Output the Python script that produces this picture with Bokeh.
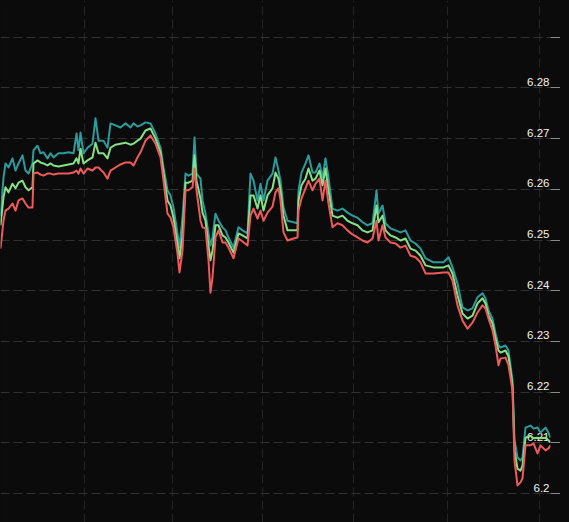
from bokeh.plotting import figure
from bokeh.models import FixedTicker, ColumnDataSource, GlobalInlineStyleSheet
from bokeh.core.properties import value
from bokeh.embed import file_html
from bokeh.resources import INLINE

# sample times (arbitrary units)
t = [0, 3, 5, 8, 12, 15, 18, 22, 25, 28,
     32, 33, 37, 40, 43, 47, 50, 53, 58, 63,
     68, 73, 76, 78, 80, 83, 87, 92, 95, 98,
     103, 107, 110, 115, 120, 125, 130, 133, 137, 140,
     145, 150, 155, 160, 163, 167, 170, 173, 177, 179,
     182, 185, 188, 192, 194, 196, 200, 202, 205, 208,
     210, 212, 215, 218, 222, 225, 228, 233, 238, 242,
     247, 250, 253, 257, 260, 263, 267, 272, 275, 278,
     280, 283, 287, 293, 297, 298, 301, 305, 308, 312,
     315, 319, 322, 325, 328, 332, 337, 342, 347, 352,
     357, 362, 367, 372, 376, 378, 382, 385, 390, 395,
     400, 405, 410, 415, 420, 425, 433, 443, 448, 452,
     457, 462, 467, 472, 477, 482, 485, 488, 492, 495,
     498, 500, 505, 508, 512, 514, 517, 520, 522, 525,
     530, 533, 537, 540, 545, 548, 550]

upper = [6.2548, 6.2623, 6.2651, 6.2643, 6.2661, 6.2637, 6.2651, 6.2667, 6.2637, 6.2631,
         6.2651, 6.2677, 6.2686, 6.2671, 6.2673, 6.2661, 6.2671, 6.2663, 6.2671, 6.2671,
         6.2673, 6.2671, 6.2710, 6.2677, 6.2712, 6.2671, 6.2682, 6.2690, 6.2740, 6.2696,
         6.2696, 6.2682, 6.2730, 6.2726, 6.2722, 6.2730, 6.2722, 6.2730, 6.2724, 6.2726,
         6.2732, 6.2730, 6.2710, 6.2682, 6.2643, 6.2598, 6.2588, 6.2564, 6.2513, 6.2485,
         6.2544, 6.2631, 6.2627, 6.2631, 6.2702, 6.2631, 6.2621, 6.2578, 6.2552, 6.2513,
         6.2489, 6.2505, 6.2552, 6.2538, 6.2525, 6.2519, 6.2505, 6.2485, 6.2525, 6.2519,
         6.2513, 6.2631, 6.2617, 6.2578, 6.2611, 6.2578, 6.2617, 6.2631, 6.2663, 6.2637,
         6.2617, 6.2564, 6.2538, 6.2535, 6.2533, 6.2598, 6.2633, 6.2651, 6.2667, 6.2633,
         6.2633, 6.2651, 6.2623, 6.2661, 6.2623, 6.2562, 6.2558, 6.2562, 6.2554, 6.2548,
         6.2544, 6.2535, 6.2529, 6.2533, 6.2598, 6.2552, 6.2568, 6.2533, 6.2523, 6.2519,
         6.2515, 6.2519, 6.2499, 6.2493, 6.2483, 6.2464, 6.2456, 6.2456, 6.2466, 6.2446,
         6.2414, 6.2367, 6.2361, 6.2365, 6.2387, 6.2395, 6.2385, 6.2361, 6.2345, 6.2316,
         6.2292, 6.2288, 6.2292, 6.2282, 6.2223, 6.2105, 6.2071, 6.2065, 6.2071, 6.2130,
         6.2134, 6.2128, 6.2130, 6.2120, 6.2130, 6.2120, 6.2110]

middle = [6.2529, 6.2584, 6.2604, 6.2594, 6.2611, 6.2602, 6.2613, 6.2617, 6.2604, 6.2598,
          6.2604, 6.2651, 6.2657, 6.2653, 6.2651, 6.2647, 6.2651, 6.2647, 6.2645, 6.2647,
          6.2649, 6.2651, 6.2661, 6.2651, 6.2680, 6.2651, 6.2657, 6.2663, 6.2692, 6.2671,
          6.2671, 6.2661, 6.2682, 6.2688, 6.2690, 6.2692, 6.2688, 6.2690, 6.2696, 6.2700,
          6.2716, 6.2720, 6.2700, 6.2673, 6.2633, 6.2578, 6.2568, 6.2544, 6.2493, 6.2464,
          6.2509, 6.2613, 6.2613, 6.2617, 6.2667, 6.2617, 6.2582, 6.2554, 6.2538, 6.2489,
          6.2460, 6.2479, 6.2529, 6.2529, 6.2509, 6.2505, 6.2495, 6.2475, 6.2513, 6.2509,
          6.2503, 6.2588, 6.2588, 6.2562, 6.2588, 6.2558, 6.2588, 6.2602, 6.2633, 6.2621,
          6.2598, 6.2548, 6.2519, 6.2519, 6.2519, 6.2578, 6.2608, 6.2621, 6.2641, 6.2617,
          6.2621, 6.2637, 6.2608, 6.2641, 6.2598, 6.2548, 6.2544, 6.2548, 6.2538, 6.2533,
          6.2529, 6.2519, 6.2515, 6.2519, 6.2568, 6.2535, 6.2548, 6.2519, 6.2509, 6.2505,
          6.2499, 6.2503, 6.2483, 6.2479, 6.2469, 6.2450, 6.2446, 6.2446, 6.2450, 6.2434,
          6.2391, 6.2355, 6.2345, 6.2351, 6.2375, 6.2385, 6.2375, 6.2351, 6.2335, 6.2306,
          6.2282, 6.2278, 6.2282, 6.2270, 6.2213, 6.2085, 6.2049, 6.2045, 6.2055, 6.2110,
          6.2114, 6.2109, 6.2110, 6.2109, 6.2110, 6.2105, 6.2101]

lower = [6.2483, 6.2538, 6.2558, 6.2562, 6.2572, 6.2558, 6.2578, 6.2582, 6.2572, 6.2564,
         6.2564, 6.2631, 6.2633, 6.2629, 6.2627, 6.2631, 6.2631, 6.2629, 6.2631, 6.2631,
         6.2631, 6.2633, 6.2637, 6.2631, 6.2641, 6.2631, 6.2641, 6.2637, 6.2643, 6.2643,
         6.2633, 6.2621, 6.2637, 6.2643, 6.2649, 6.2653, 6.2653, 6.2647, 6.2663, 6.2673,
         6.2696, 6.2706, 6.2690, 6.2663, 6.2617, 6.2552, 6.2544, 6.2525, 6.2473, 6.2436,
         6.2479, 6.2598, 6.2598, 6.2604, 6.2641, 6.2598, 6.2538, 6.2525, 6.2523, 6.2460,
         6.2396, 6.2426, 6.2505, 6.2519, 6.2495, 6.2495, 6.2485, 6.2464, 6.2503, 6.2497,
         6.2489, 6.2548, 6.2562, 6.2542, 6.2558, 6.2538, 6.2554, 6.2566, 6.2594, 6.2602,
         6.2578, 6.2515, 6.2499, 6.2503, 6.2505, 6.2558, 6.2582, 6.2602, 6.2617, 6.2598,
         6.2611, 6.2621, 6.2578, 6.2617, 6.2572, 6.2525, 6.2533, 6.2529, 6.2519, 6.2511,
         6.2505, 6.2499, 6.2495, 6.2503, 6.2538, 6.2499, 6.2529, 6.2505, 6.2495, 6.2493,
         6.2485, 6.2489, 6.2469, 6.2466, 6.2456, 6.2434, 6.2434, 6.2436, 6.2436, 6.2420,
         6.2371, 6.2341, 6.2325, 6.2337, 6.2357, 6.2371, 6.2365, 6.2345, 6.2322, 6.2292,
         6.2253, 6.2266, 6.2268, 6.2253, 6.2203, 6.2065, 6.2016, 6.2022, 6.2030, 6.2095,
         6.2095, 6.2099, 6.2079, 6.2095, 6.2085, 6.2089, 6.2095]

assert len(t) == len(upper) == len(middle) == len(lower), (len(t), len(upper), len(middle), len(lower))

y_ticks = [6.20, 6.21, 6.22, 6.23, 6.24, 6.25, 6.26, 6.27, 6.28, 6.29]
y_labels = ["6.2", "6.21", "6.22", "6.23", "6.24", "6.25", "6.26", "6.27", "6.28"]
x_grid = [84, 171.5, 262, 353, 447, 538.5]

BG = "#0b0b0b"

p = figure(frame_width=550, frame_height=522,
           x_range=(0, 550), y_range=(6.19428, 6.29724),
           y_axis_location="right",
           output_backend="svg", toolbar_location=None,
           min_border=0, min_border_left=0, min_border_right=0,
           min_border_top=0, min_border_bottom=0)
p.background_fill_color = BG
p.border_fill_color = BG
p.outline_line_color = None
p.stylesheets = [GlobalInlineStyleSheet(css="html, body { background-color: %s; }" % BG)]

p.xaxis.visible = False

ya = p.yaxis[0]
ya.ticker = FixedTicker(ticks=y_ticks)
ya.axis_line_color = None
ya.major_tick_in = 0
ya.major_tick_out = 10
ya.minor_tick_in = 0
ya.minor_tick_out = 0
ya.major_tick_line_color = "#8a8a8a"
ya.major_tick_line_width = 1
ya.major_label_text_font_size = "0px"
ya.major_label_standoff = 0
ya.major_label_overrides = {v: "" for v in y_ticks}

p.ygrid.ticker = FixedTicker(ticks=y_ticks)
p.ygrid.grid_line_color = "#303030"
p.ygrid.grid_line_dash = "9 4"
p.xgrid.ticker = FixedTicker(ticks=x_grid)
p.xgrid.grid_line_color = "#242424"
p.xgrid.grid_line_dash = "9 4"

lbl_src = ColumnDataSource(dict(
    x=[p.x_range.end] * len(y_labels),
    y=y_ticks[:len(y_labels)],
    text=y_labels,
))
p.text(x="x", y="y", text="text", source=lbl_src,
       text_align="right", text_baseline="bottom",
       x_offset=-1, y_offset=-2,
       text_font=value("Liberation Sans"), text_font_size="11.5px",
       text_color="#f2f2f2")

src = ColumnDataSource(dict(t=t, upper=upper, middle=middle, lower=lower))
p.line("t", "upper", source=src, line_color="#2b9b9b", line_width=2, line_join="round")
p.line("t", "middle", source=src, line_color="#86e086", line_width=2, line_join="round")
p.line("t", "lower", source=src, line_color="#f05a5a", line_width=2, line_join="round")

open("out.html", "w").write(file_html(p, INLINE))
